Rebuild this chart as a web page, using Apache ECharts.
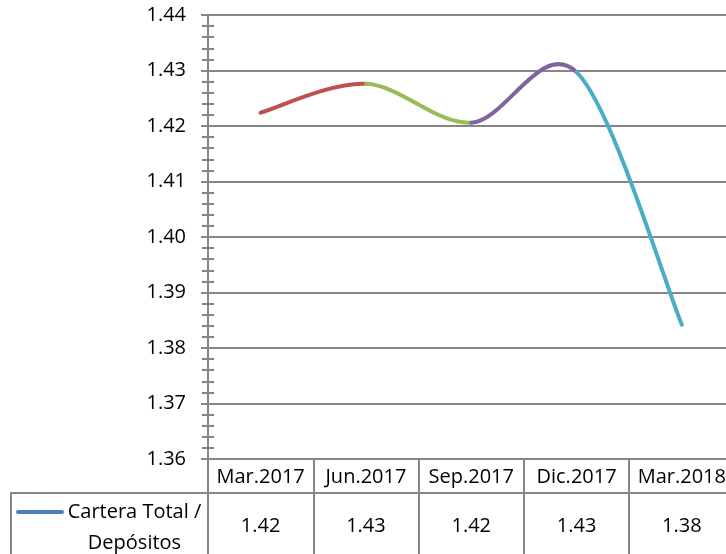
<!DOCTYPE html>
<html>
<head>
<meta charset="utf-8">
<script src="https://cdn.jsdelivr.net/npm/echarts@6/dist/echarts.min.js"></script>
<style>
  html, body { margin: 0; padding: 0; background: #fff; }
  #chart { width: 726px; height: 554px; }
</style>
</head>
<body>
<div id="chart"></div>
<script>
// Quarterly ratio: total loan portfolio over deposits
const categories = ['Mar.2017', 'Jun.2017', 'Sep.2017', 'Dic.2017', 'Mar.2018'];
const ratioValues = [1.4224, 1.4276, 1.4206, 1.4297, 1.3842];
const seriesName = 'Cartera Total / Depósitos';
const legendLines = ['Cartera Total /', 'Depósitos'];
const segmentColors = ['#C0504D', '#9BBB59', '#8064A2', '#4BACC6'];
const legendColor = '#4F81BD';
const yMin = 1.36, yMax = 1.44, yStep = 0.01;

const FONT = '"Open Sans", "Liberation Sans", sans-serif';
const FS = 20;
const GRAY = '#868686';

// Rounded values printed in the data table row
const tableValues = ratioValues.map(v => v.toFixed(2));

const chart = echarts.init(document.getElementById('chart'), null, { renderer: 'canvas' });

const baseY = {
  type: 'value', position: 'left', min: yMin, max: yMax, interval: yStep
};

// Smoothed segment i -> i+1 as a cubic Bezier (Catmull-Rom style, tension 1/6),
// each segment with its own colour.
function renderSegment(params, api) {
  const i = params.dataIndex;
  const n = ratioValues.length;
  if (i >= n - 1) return null;
  const clampIdx = k => Math.max(0, Math.min(n - 1, k));
  const pt = k => api.coord([clampIdx(k), ratioValues[clampIdx(k)]]);
  const p0 = pt(i - 1), p1 = pt(i), p2 = pt(i + 1), p3 = pt(i + 2);
  return {
    type: 'bezierCurve',
    shape: {
      x1: p1[0], y1: p1[1],
      cpx1: p1[0] + (p2[0] - p0[0]) / 6, cpy1: p1[1] + (p2[1] - p0[1]) / 6,
      cpx2: p2[0] - (p3[0] - p1[0]) / 6, cpy2: p2[1] - (p3[1] - p1[1]) / 6,
      x2: p2[0], y2: p2[1]
    },
    style: { stroke: segmentColors[i], lineWidth: 4, fill: null, lineCap: 'round' }
  };
}

chart.setOption({
  animation: false,
  backgroundColor: '#fff',
  // the last column runs a little past the right edge of the page
  grid: { left: 208, width: 526.5, top: 15, bottom: 95, containLabel: false, outerBoundsMode: 'none' },
  xAxis: [
    {
      type: 'category', position: 'bottom', data: categories, boundaryGap: true,
      axisLine: { show: true, lineStyle: { color: GRAY, width: 2 } },
      axisTick: { show: true, interval: 0, length: 100, lineStyle: { color: GRAY, width: 2 } },
      axisLabel: { interval: 0, margin: 18, verticalAlign: 'middle', color: '#000', fontFamily: FONT, fontSize: FS, hideOverlap: false }
    },
    {
      // value row of the data table
      type: 'category', position: 'bottom', data: tableValues, boundaryGap: true,
      axisLine: { show: false }, axisTick: { show: false },
      axisLabel: { interval: 0, margin: 67, verticalAlign: 'middle', color: '#000', fontFamily: FONT, fontSize: FS }
    }
  ],
  yAxis: [
    Object.assign({}, baseY, {
      axisLine: { show: true, lineStyle: { color: GRAY, width: 2 } },
      axisTick: { show: true, length: 7, lineStyle: { color: GRAY, width: 2 } },
      minorTick: { show: true, splitNumber: 5, length: 6, lineStyle: { color: GRAY, width: 2 } },
      splitLine: { show: true, lineStyle: { color: GRAY, width: 2 } },
      axisLabel: { margin: 22, color: '#000', fontFamily: FONT, fontSize: FS, formatter: v => v.toFixed(2) }
    }),
    Object.assign({}, baseY, {
      // inner half of the cross-style minor ticks
      axisLine: { show: false },
      axisTick: { show: false, inside: true },
      minorTick: { show: true, splitNumber: 5, length: 6, lineStyle: { color: GRAY, width: 2 } },
      splitLine: { show: false },
      axisLabel: { show: false }
    })
  ],
  series: [{
    name: seriesName,
    type: 'custom',
    xAxisIndex: 0, yAxisIndex: 0,
    data: ratioValues.map((v, i) => [i, v]),
    encode: { x: 0, y: 1 },
    renderItem: renderSegment
  }],
  graphic: [
    { type: 'line', shape: { x1: 11, y1: 493, x2: 726, y2: 493 }, style: { stroke: GRAY, lineWidth: 2 } },
    { type: 'line', shape: { x1: 11, y1: 492, x2: 11, y2: 554 }, style: { stroke: GRAY, lineWidth: 2 } },
    { type: 'line', shape: { x1: 18, y1: 512, x2: 62, y2: 512 }, style: { stroke: legendColor, lineWidth: 4, lineCap: 'round' } },
    { type: 'text', x: 134.5, y: 512, style: { text: legendLines[0], fill: '#000', font: FS + 'px ' + FONT, align: 'center', verticalAlign: 'middle' } },
    { type: 'text', x: 134.5, y: 543, style: { text: legendLines[1], fill: '#000', font: FS + 'px ' + FONT, align: 'center', verticalAlign: 'middle' } }
  ]
});
</script>
</body>
</html>
